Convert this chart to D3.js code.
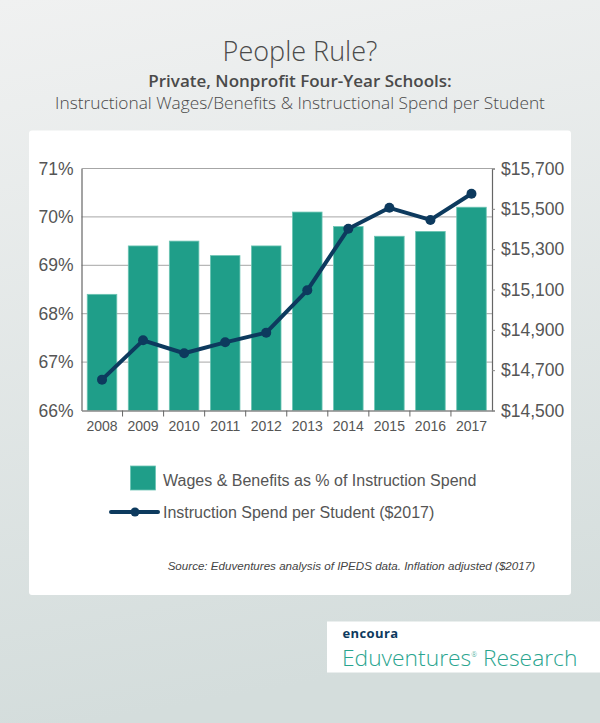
<!DOCTYPE html>
<html>
<head>
<meta charset="utf-8">
<script src="https://d3js.org/d3.v7.min.js"></script>
<style>
  body { margin: 0; }
  svg { display: block; }
</style>
</head>
<body>
<div id="chart"></div>
<script>
// data
const years = ["2008", "2009", "2010", "2011", "2012", "2013", "2014", "2015", "2016", "2017"];
const wagesPct = [68.4, 69.4, 69.5, 69.2, 69.4, 70.1, 69.8, 69.6, 69.7, 70.2];
const spendPerStudent = [14653, 14848, 14784, 14838, 14886, 15096, 15401, 15505, 15445, 15575];
const pctTicks = [66, 67, 68, 69, 70, 71];
const dollarTicks = [14500, 14700, 14900, 15100, 15300, 15500, 15700];

const W = 600, H = 723;
const plotL = 81.5, plotR = 492, plotT = 168.5, plotB = 410.5;
const barColor = "#1f9e89", lineColor = "#0d3a5e";

const svg = d3.select("#chart").append("svg")
    .attr("width", W)
    .attr("height", H);

// background
const grad = svg.append("defs").append("linearGradient")
    .attr("id", "bg").attr("x1", 0).attr("y1", 0).attr("x2", 0.15).attr("y2", 1);
grad.append("stop").attr("offset", "0%").attr("stop-color", "#f0f1f1");
grad.append("stop").attr("offset", "100%").attr("stop-color", "#d4dddc");
svg.append("rect").attr("width", W).attr("height", H).attr("fill", "url(#bg)");

// titles
svg.append("text").attr("x", 300).attr("y", 61).attr("text-anchor", "middle")
    .style("font", "300 27px 'Open Sans'").attr("fill", "#4a4a4a").text("People Rule?");
svg.append("text").attr("x", 300).attr("y", 87).attr("text-anchor", "middle")
    .style("font", "600 17px 'Open Sans'").attr("fill", "#4a4a4a").text("Private, Nonprofit Four-Year Schools:");
svg.append("text").attr("x", 300).attr("y", 109).attr("text-anchor", "middle")
    .style("font", "300 17.3px 'Open Sans'").attr("fill", "#4a4a4a")
    .text("Instructional Wages/Benefits & Instructional Spend per Student");

// card
svg.append("rect").attr("x", 29).attr("y", 130.5).attr("width", 542).attr("height", 464.5)
    .attr("rx", 3).attr("fill", "#fff");

// scales
const x = d3.scaleBand().domain(years).range([plotL, plotR])
    .paddingInner(0.28).paddingOuter(0.14);
const yL = d3.scaleLinear().domain([66, 71]).range([plotB, plotT]);
const yR = d3.scaleLinear().domain([14500, 15700]).range([plotB, plotT]);

// gridlines
svg.append("g").selectAll("line").data(pctTicks.slice(1)).join("line")
    .attr("x1", plotL).attr("x2", plotR)
    .attr("y1", d => yL(d)).attr("y2", d => yL(d))
    .attr("stroke", "#a6a6a6").attr("stroke-width", 1);

// bars
const rows = years.map((yr, i) => ({ year: yr, pct: wagesPct[i], spend: spendPerStudent[i] }));
svg.append("g").selectAll("rect").data(rows).join("rect")
    .attr("x", d => x(d.year))
    .attr("width", x.bandwidth())
    .attr("y", d => yL(d.pct))
    .attr("height", d => plotB - yL(d.pct))
    .attr("fill", barColor)
    .attr("stroke", "#6cc4b3").attr("stroke-width", 0.8);

// axes
const axisFont = "17.5px 'Liberation Sans', Arial, sans-serif";
const gl = svg.append("g").attr("transform", `translate(${plotL},0)`)
    .call(d3.axisLeft(yL).tickValues(pctTicks).tickFormat(d => d + "%").tickSize(0).tickPadding(8));
const gr = svg.append("g").attr("transform", `translate(${plotR},0)`)
    .call(d3.axisRight(yR).tickValues(dollarTicks).tickFormat(d => "$" + d3.format(",")(d)).tickSize(3).tickPadding(6));
[gl, gr].forEach(g => {
    g.select(".domain").attr("stroke", "#666").attr("stroke-width", 1.2);
    g.selectAll(".tick line").attr("stroke", "#888");
    g.selectAll("text").style("font", axisFont).attr("fill", "#555");
});

const gx = svg.append("g").attr("transform", `translate(0,${plotB})`)
    .call(d3.axisBottom(x).tickSize(0).tickPadding(11));
gx.select(".domain").attr("stroke", "#888").attr("stroke-width", 1.5);
gx.selectAll("text").style("font", "14px 'Liberation Sans', Arial, sans-serif").attr("fill", "#555");
// separators between categories
gx.selectAll("line.sep").data(years.slice(1)).join("line")
    .attr("class", "sep")
    .attr("x1", d => x(d) - x.step() * x.paddingInner() / 2)
    .attr("x2", d => x(d) - x.step() * x.paddingInner() / 2)
    .attr("y1", 0).attr("y2", 6)
    .attr("stroke", "#666");

// line
const line = d3.line().x(d => x(d.year) + x.bandwidth() / 2).y(d => yR(d.spend));
svg.append("path").datum(rows).attr("d", line)
    .attr("fill", "none").attr("stroke", lineColor).attr("stroke-width", 4)
    .attr("stroke-linejoin", "round");
svg.append("g").selectAll("circle").data(rows).join("circle")
    .attr("cx", d => x(d.year) + x.bandwidth() / 2)
    .attr("cy", d => yR(d.spend))
    .attr("r", 5).attr("fill", lineColor);

// legend
const legFont = "16px 'Liberation Sans', Arial, sans-serif";
svg.append("rect").attr("x", 130.5).attr("y", 466).attr("width", 25).attr("height", 24)
    .attr("fill", barColor).attr("stroke", "#6cc4b3").attr("stroke-width", 0.8);
svg.append("text").attr("x", 163).attr("y", 485.5).style("font", legFont).attr("fill", "#555")
    .text("Wages & Benefits as % of Instruction Spend");
svg.append("line").attr("x1", 111).attr("x2", 158).attr("y1", 512).attr("y2", 512)
    .attr("stroke", lineColor).attr("stroke-width", 4).attr("stroke-linecap", "round");
svg.append("circle").attr("cx", 135).attr("cy", 512).attr("r", 4.5).attr("fill", lineColor);
svg.append("text").attr("x", 163).attr("y", 518).style("font", legFont).attr("fill", "#555")
    .text("Instruction Spend per Student ($2017)");

// source
svg.append("text").attr("x", 535).attr("y", 570).attr("text-anchor", "end")
    .style("font", "italic 11.6px 'Liberation Sans', Arial, sans-serif").attr("fill", "#444")
    .text("Source: Eduventures analysis of IPEDS data. Inflation adjusted ($2017)");

// logo box
svg.append("rect").attr("x", 327).attr("y", 621.5).attr("width", 273).attr("height", 51).attr("fill", "#fff");
svg.append("text").attr("x", 342.5).attr("y", 637.5)
    .style("font", "700 13px 'Open Sans'").attr("fill", "#0d3a5e").attr("letter-spacing", "0.4")
    .text("encoura");
const brand = svg.append("text").attr("x", 342).attr("y", 666)
    .style("font", "300 22.8px 'Open Sans'").attr("fill", "#2aa58f");
brand.append("tspan").text("Eduventures");
brand.append("tspan").attr("dy", -9).style("font-size", "7px").text("®");
brand.append("tspan").attr("dy", 9).text(" Research");
</script>
</body>
</html>
